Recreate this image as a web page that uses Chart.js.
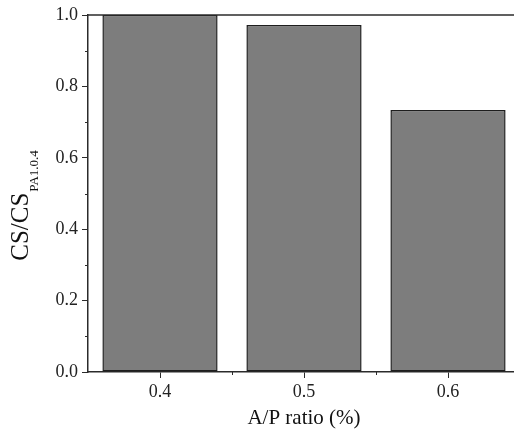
<!DOCTYPE html>
<html>
<head>
<meta charset="utf-8">
<script src="https://cdn.jsdelivr.net/npm/chart.js@4.4.1/dist/chart.umd.min.js"></script>
<style>
  html, body { margin: 0; padding: 0; background: #fff; overflow: hidden; }
  #wrap { width: 540px; height: 435px; }
</style>
</head>
<body>
<div id="wrap"><canvas id="myChart" width="540" height="435"></canvas></div>
<script>
// data
const ratios = ['0.4', '0.5', '0.6'];
const csRatio = [1.0, 0.972, 0.734];
const yTicks = [0.0, 0.2, 0.4, 0.6, 0.8, 1.0];
const yMinorTicks = [0.1, 0.3, 0.5, 0.7, 0.9];

const axisColor = '#2b2b2b';
const serif = "'Liberation Serif', 'DejaVu Serif', serif";

// extra marks: frame top, minor ticks, y title with subscript
const extras = {
    id: 'extras',
    afterDraw(chart) {
        const c = chart.ctx;
        const area = chart.chartArea;
        const x = chart.scales.x;
        const y = chart.scales.y;
        c.save();
        c.strokeStyle = axisColor;
        c.lineWidth = 1.5;
        // top frame line
        c.beginPath();
        c.moveTo(area.left, area.top);
        c.lineTo(chart.width, area.top);
        c.stroke();
        // minor ticks
        c.lineWidth = 1;
        yMinorTicks.forEach(v => {
            const py = Math.round(y.getPixelForValue(v)) + 0.5;
            c.beginPath();
            c.moveTo(area.left - 3, py);
            c.lineTo(area.left, py);
            c.stroke();
        });
        for (let i = 0; i < ratios.length - 1; i++) {
            const px = Math.round((x.getPixelForTick(i) + x.getPixelForTick(i + 1)) / 2) + 0.5;
            c.beginPath();
            c.moveTo(px, area.bottom);
            c.lineTo(px, area.bottom + 3);
            c.stroke();
        }
        // y axis title
        c.fillStyle = '#111';
        c.translate(28, 206);
        c.rotate(-Math.PI / 2);
        const main = 'CS/CS';
        const sub = 'PA1.0.4';
        c.font = '25px ' + serif;
        const wMain = c.measureText(main).width;
        c.font = '13px ' + serif;
        const wSub = c.measureText(sub).width;
        const start = -(wMain + wSub) / 2;
        c.textBaseline = 'alphabetic';
        c.textAlign = 'left';
        c.font = '25px ' + serif;
        c.fillText(main, start, 0);
        c.font = '13px ' + serif;
        c.fillText(sub, start + wMain + 1, 10);
        c.restore();
    }
};

const ctx = document.getElementById('myChart').getContext('2d');
const myChart = new Chart(ctx, {
    type: 'bar',
    data: {
        labels: ratios,
        datasets: [{
            data: csRatio,
            backgroundColor: '#7d7d7d',
            borderColor: '#1e1e1e',
            borderWidth: 1.5,
            borderSkipped: false,
            categoryPercentage: 0.8,
            barPercentage: 1.0
        }]
    },
    options: {
        responsive: false,
        animation: false,
        layout: { padding: { top: 15, right: 20, left: 0, bottom: 0 } },
        plugins: {
            legend: { display: false },
            tooltip: { enabled: false }
        },
        scales: {
            x: {
                offset: true,
                grid: {
                    offset: false,
                    drawOnChartArea: false,
                    drawTicks: true,
                    tickLength: 6,
                    tickColor: axisColor,
                    tickWidth: 1
                },
                border: { color: axisColor, width: 1.5 },
                ticks: {
                    color: '#222',
                    font: { family: serif, size: 18 },
                    padding: 3
                },
                title: {
                    display: true,
                    text: 'A/P ratio (%)',
                    color: '#111',
                    font: { family: serif, size: 21 },
                    padding: { top: 3 }
                },
                afterFit(scale) { scale.height = 63; }
            },
            y: {
                min: 0,
                max: 1,
                afterBuildTicks(scale) {
                    scale.ticks = yTicks.map(v => ({ value: v }));
                },
                grid: {
                    drawOnChartArea: false,
                    drawTicks: true,
                    tickLength: 6,
                    tickColor: axisColor,
                    tickWidth: 1
                },
                border: { color: axisColor, width: 1.5 },
                ticks: {
                    color: '#222',
                    font: { family: serif, size: 18 },
                    padding: 4,
                    callback: v => Number(v).toFixed(1)
                },
                afterFit(scale) { scale.width = 88; }
            }
        }
    },
    plugins: [extras]
});
</script>
</body>
</html>
